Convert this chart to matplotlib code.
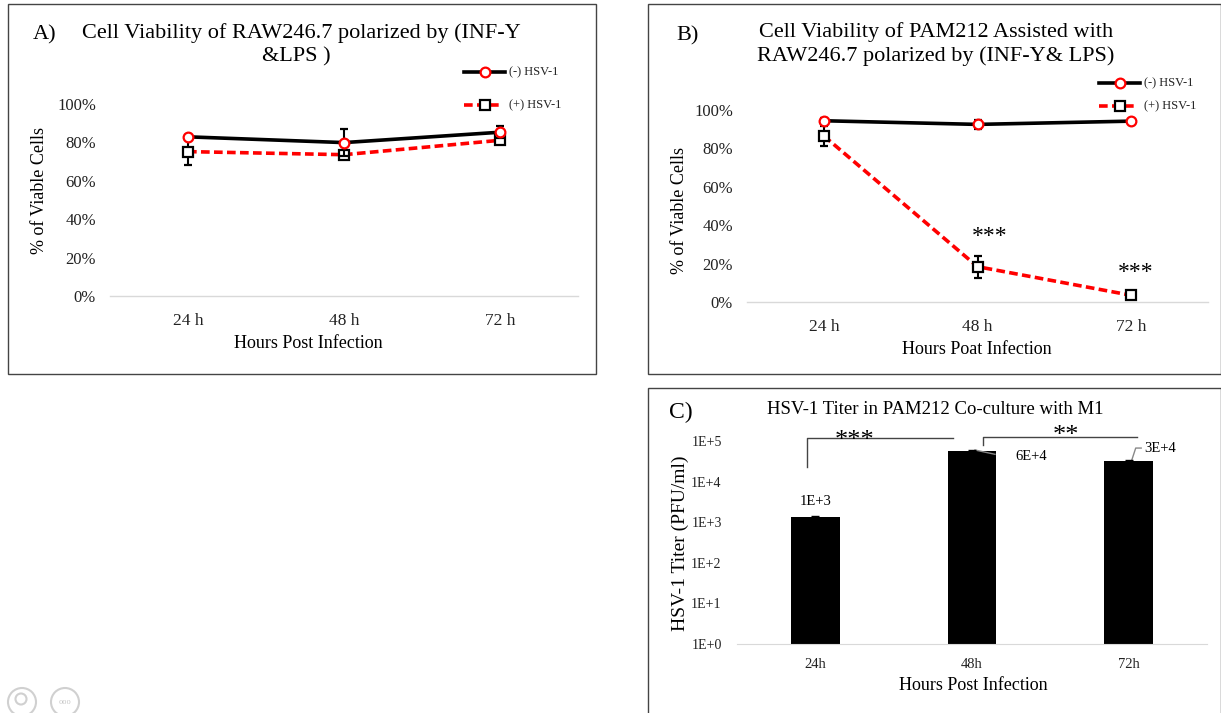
import matplotlib
matplotlib.use("Agg")
import matplotlib.pyplot as plt
from matplotlib.patches import Rectangle, Ellipse
from matplotlib.lines import Line2D
import numpy as np

plt.rcParams['font.family'] = ['Liberation Serif', 'DejaVu Serif']

# ---------------- data ----------------
hours_line = ["24 h", "48 h", "72 h"]
hours_bar = ["24h", "48h", "72h"]

a_neg = [0.829, 0.799, 0.853]
a_neg_err = [0.01, 0.07, 0.03]
a_pos = [0.752, 0.736, 0.811]
a_pos_err = [0.07, 0.012, 0.012]

b_neg = [0.944, 0.925, 0.942]
b_neg_err = [0.015, 0.025, 0.01]
b_pos = [0.865, 0.184, 0.035]
b_pos_err = [0.05, 0.058, 0.01]
b_stars = ["", "***", "***"]

c_titer = [1350, 56000, 32000]
c_err = [80, 2500, 2500]
c_labels = ["1E+3", "6E+4", "3E+4"]

W, H = 1221, 713
fig = plt.figure(figsize=(W / 100, H / 100), dpi=100)


def fx(x):
    return x / W


def fy(y):
    return 1 - y / H


def axes_px(l, t, r, b):
    return fig.add_axes([l / W, 1 - b / H, (r - l) / W, (b - t) / H])


def ftext(x, y, s, **kw):
    fig.text(fx(x), fy(y), s, **kw)


# panel borders
border_kw = dict(fill=False, edgecolor='#444444', linewidth=1.0, transform=fig.transFigure)
fig.patches.append(Rectangle((fx(8), fy(374)), fx(596) - fx(8), fy(4) - fy(374), **border_kw))
fig.patches.append(Rectangle((fx(648), fy(374)), fx(1221) - fx(648), fy(4) - fy(374), **border_kw))
fig.patches.append(Rectangle((fx(648), fy(720)), fx(1221) - fx(648), fy(388) - fy(720), **border_kw))

DASH = (0, (2.4, 1.2))


def style_line_axes(ax):
    for s in ['top', 'right', 'left']:
        ax.spines[s].set_visible(False)
    ax.spines['bottom'].set_color('#d9d9d9')
    ax.spines['bottom'].set_linewidth(1.0)
    ax.tick_params(length=0, labelsize=12, colors='#222222')
    ax.tick_params(axis='y', pad=10)
    ax.tick_params(axis='x', pad=12, labelsize=12.5)
    ax.set_ylim(0, 1.0)
    ax.set_yticks([0, 0.2, 0.4, 0.6, 0.8, 1.0])
    ax.set_yticklabels(["0%", "20%", "40%", "60%", "80%", "100%"])
    ax.set_xlim(0, 3)
    ax.set_xticks([0.5, 1.5, 2.5])
    ax.set_xticklabels(hours_line)
    ax.patch.set_alpha(0)


xpos = np.arange(len(hours_line)) + 0.5


def draw_series(ax, neg, neg_err, pos, pos_err):
    ax.errorbar(xpos, pos, yerr=pos_err, color='red', linestyle=DASH, linewidth=2.6,
                ecolor='black', elinewidth=1.5, capsize=3, capthick=1.5,
                marker='s', markersize=7, markerfacecolor='white', markeredgecolor='black',
                markeredgewidth=1.6, zorder=3, clip_on=False)
    ax.errorbar(xpos, neg, yerr=neg_err, color='black', linestyle='-', linewidth=2.6,
                ecolor='black', elinewidth=1.5, capsize=3, capthick=1.5,
                marker='o', markersize=7, markerfacecolor='white', markeredgecolor='red',
                markeredgewidth=1.6, zorder=4, clip_on=False)


def legend_px(x0, x1, x2, y1, y2, tx):
    fig.lines.append(Line2D([fx(x0), fx(x1)], [fy(y1), fy(y1)], color='black', lw=2.6,
                            transform=fig.transFigure))
    fig.lines.append(Line2D([fx((x0 + x1) / 2)], [fy(y1)], marker='o', markersize=7,
                            markerfacecolor='white', markeredgecolor='red', markeredgewidth=1.6,
                            transform=fig.transFigure))
    fig.lines.append(Line2D([fx(x0), fx(x2)], [fy(y2), fy(y2)], color='red', lw=2.6,
                            linestyle=DASH, transform=fig.transFigure))
    fig.lines.append(Line2D([fx((x0 + x1) / 2)], [fy(y2)], marker='s', markersize=7,
                            markerfacecolor='white', markeredgecolor='black', markeredgewidth=1.6,
                            transform=fig.transFigure))
    ftext(tx, y1, "(-) HSV-1", fontsize=9, va='center', ha='left', color='#222222')
    ftext(tx, y2, "(+) HSV-1", fontsize=9, va='center', ha='left', color='#222222')


# ---------------- Panel A ----------------
axA = axes_px(110, 104, 578, 296)
style_line_axes(axA)
draw_series(axA, a_neg, a_neg_err, a_pos, a_pos_err)
ftext(45, 35, "A)", fontsize=16, ha='center', va='center')
ftext(301, 33, "Cell Viability of RAW246.7 polarized by (INF-Y", fontsize=16, ha='center', va='center')
ftext(296, 57, "&LPS )", fontsize=16, ha='center', va='center')
ftext(40, 190, "% of Viable Cells", fontsize=13, rotation=90, ha='center', va='center')
ftext(308, 344, "Hours Post Infection", fontsize=13, ha='center', va='center')
legend_px(464, 505, 499, 72, 105, 509)

# ---------------- Panel B ----------------
axB = axes_px(747, 110, 1208, 302)
style_line_axes(axB)
draw_series(axB, b_neg, b_neg_err, b_pos, b_pos_err)
star_dx = [0, 0.08, 0.03]
star_y = [0, 0.34, 0.155]
for i, s in enumerate(b_stars):
    if s:
        axB.text(xpos[i] + star_dx[i], star_y[i], s, fontsize=17, ha='center', va='center')
ftext(688, 36, "B)", fontsize=16, ha='center', va='center')
ftext(936, 32, "Cell Viability of PAM212 Assisted with", fontsize=16, ha='center', va='center')
ftext(936, 56, "RAW246.7 polarized by (INF-Y& LPS)", fontsize=16, ha='center', va='center')
ftext(679, 210, "% of Viable Cells", fontsize=13, rotation=90, ha='center', va='center')
ftext(977, 349, "Hours Poat Infection", fontsize=13, ha='center', va='center')
legend_px(1099, 1140, 1135, 83, 106, 1144)

# ---------------- Panel C ----------------
axC = axes_px(737, 441, 1207, 644)
axC.set_yscale('log')
axC.set_ylim(1, 1e5)
axC.set_xlim(0, 3)
xb = np.arange(len(hours_bar)) + 0.5
axC.bar(xb, c_titer, width=0.31, color='black', zorder=2)
axC.errorbar(xb, c_titer, yerr=c_err, fmt='none', ecolor='black', elinewidth=1.0, capsize=3, zorder=3)
axC.set_xticks(xb)
axC.set_xticklabels(hours_bar)
axC.set_yticks([1, 10, 100, 1e3, 1e4, 1e5])
axC.set_yticklabels(["1E+0", "1E+1", "1E+2", "1E+3", "1E+4", "1E+5"])
axC.yaxis.set_minor_locator(matplotlib.ticker.NullLocator())
for s in ['top', 'right', 'left']:
    axC.spines[s].set_visible(False)
axC.spines['bottom'].set_color('#d9d9d9')
axC.tick_params(length=0, labelsize=10, colors='#222222')
axC.tick_params(axis='y', pad=11)
axC.tick_params(axis='x', pad=10, labelsize=10.5)
axC.patch.set_alpha(0)

# data labels
axC.text(xb[0], 3200, c_labels[0], fontsize=10.5, ha='center', va='center')
axC.plot([1.519, 1.647], [60000, 47000], color='#888888', lw=1.0, clip_on=False)
axC.text(1.78, 42000, c_labels[1], fontsize=10.5, ha='left', va='center')
axC.plot([2.52, 2.545, 2.58], [34000, 67000, 67000], color='#888888', lw=1.0, clip_on=False)
axC.text(2.598, 67000, c_labels[2], fontsize=10.5, ha='left', va='center')

# significance brackets
axC.plot([0.447, 0.447, 1.379], [22900, 118600, 118600], color='#444444', lw=1.0, clip_on=False)
axC.text(0.753, 100000, "***", fontsize=19, ha='center', va='center', clip_on=False)
axC.plot([1.57, 1.57, 2.553], [79500, 127000, 127000], color='#444444', lw=1.0, clip_on=False)
axC.text(2.1, 132000, "**", fontsize=19, ha='center', va='center', clip_on=False)

ftext(681, 412, "C)", fontsize=17, ha='center', va='center')
ftext(935, 410, "HSV-1 Titer in PAM212 Co-culture with M1", fontsize=13.5, ha='center', va='center')
ftext(680, 543, "HSV-1 Titer (PFU/ml)", fontsize=14, rotation=90, ha='center', va='center')
ftext(973, 685, "Hours Post Infection", fontsize=13, ha='center', va='center')

# faint UI icons bottom-left
for cx in (22, 65):
    fig.patches.append(Ellipse((fx(cx), fy(702)), 28 / W, 28 / H, fill=False, edgecolor='#d0d0d0',
                               lw=1.5, transform=fig.transFigure))
fig.patches.append(Ellipse((fx(21), fy(699)), 11 / W, 11 / H, fill=False, edgecolor='#d0d0d0',
                           lw=1.5, transform=fig.transFigure))
ftext(65, 702, "ooo", fontsize=6, color='#c8c8c8', ha='center', va='center')

fig.savefig("out.png", dpi=100)
